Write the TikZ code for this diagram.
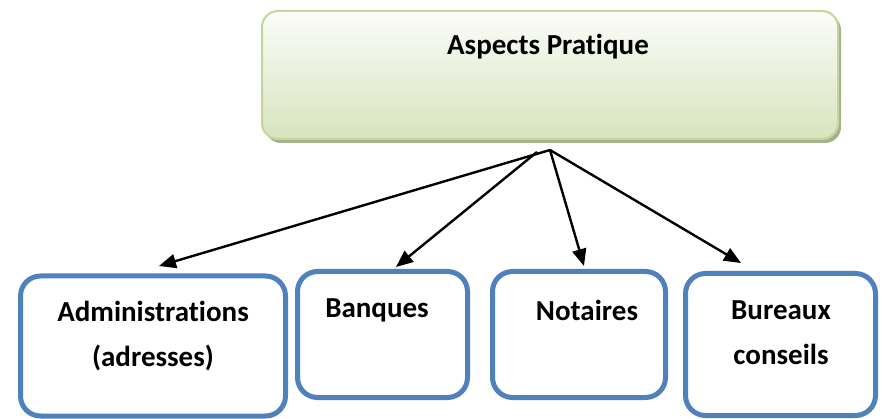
\documentclass[tikz,border=0pt]{standalone}
\usepackage{fontspec}
\setmainfont{Carlito}[Ligatures=NoCommon]
\usetikzlibrary{arrows.meta,shadows}
\definecolor{topborder}{HTML}{C3D69B}
\definecolor{topfillA}{HTML}{FBFCF8}
\definecolor{topfillB}{HTML}{D7E4BD}
\definecolor{topshadow}{HTML}{A3B38B}
\definecolor{boxblue}{HTML}{4F81BD}
\tikzset{
  topbox/.style={draw=topborder, line width=2pt, rounded corners=16pt,
    top color=topfillA, bottom color=topfillB, minimum width=576pt, minimum height=128pt, inner sep=0pt},
  bluebox/.style={draw=boxblue, line width=5pt, rounded corners=20pt, fill=white, inner sep=0pt},
  lbl/.style={font=\fontsize{29}{45}\selectfont\bfseries, align=center, inner sep=0pt},
  conn/.style={line width=2.4pt, -{Triangle[length=17pt,width=14pt]}}
}
\begin{document}
\begin{tikzpicture}[x=1pt,y=-1pt]
\useasboundingbox (0,0) rectangle (886,419);
\clip (0,0) rectangle (886,419);
% shadow of top box
\fill[topshadow, rounded corners=16pt] (265,14) rectangle (841,143);
\node[topbox] (top) at (550,75) {};
\node[lbl] (toptext) at (548,47) {Aspects Pratique};
% bottom boxes
\node[bluebox, minimum width=265pt, minimum height=140pt] (admin) at (153,346) {};
\node[bluebox, minimum width=170pt, minimum height=126pt] (banq) at (382.5,334.5) {};
\node[bluebox, minimum width=173pt, minimum height=126pt] (not) at (579,334.5) {};
\node[bluebox, minimum width=190pt, minimum height=142pt] (bur) at (780.5,344.5) {};
\node[lbl] (admintext) at (153,336) {Administrations\\(adresses)};
\node[lbl] (banqtext) at (377,310) {Banques};
\node[lbl] (nottext) at (587,310) {Notaires};
\node[lbl] (burtext) at (781,333) {Bureaux\\conseils};
% connectors
\coordinate (s1) at (550,150);
\coordinate (s2) at (537,152);
\coordinate (eA) at (159,266);
\coordinate (eB) at (396,267);
\coordinate (eN) at (584,266);
\coordinate (eU) at (741,263);
\draw[conn] (s1) -- (eA);
\draw[conn] (s2) -- (eB);
\draw[conn] (s1) -- (eN);
\draw[conn] (s1) -- (eU);
\end{tikzpicture}
\end{document}
